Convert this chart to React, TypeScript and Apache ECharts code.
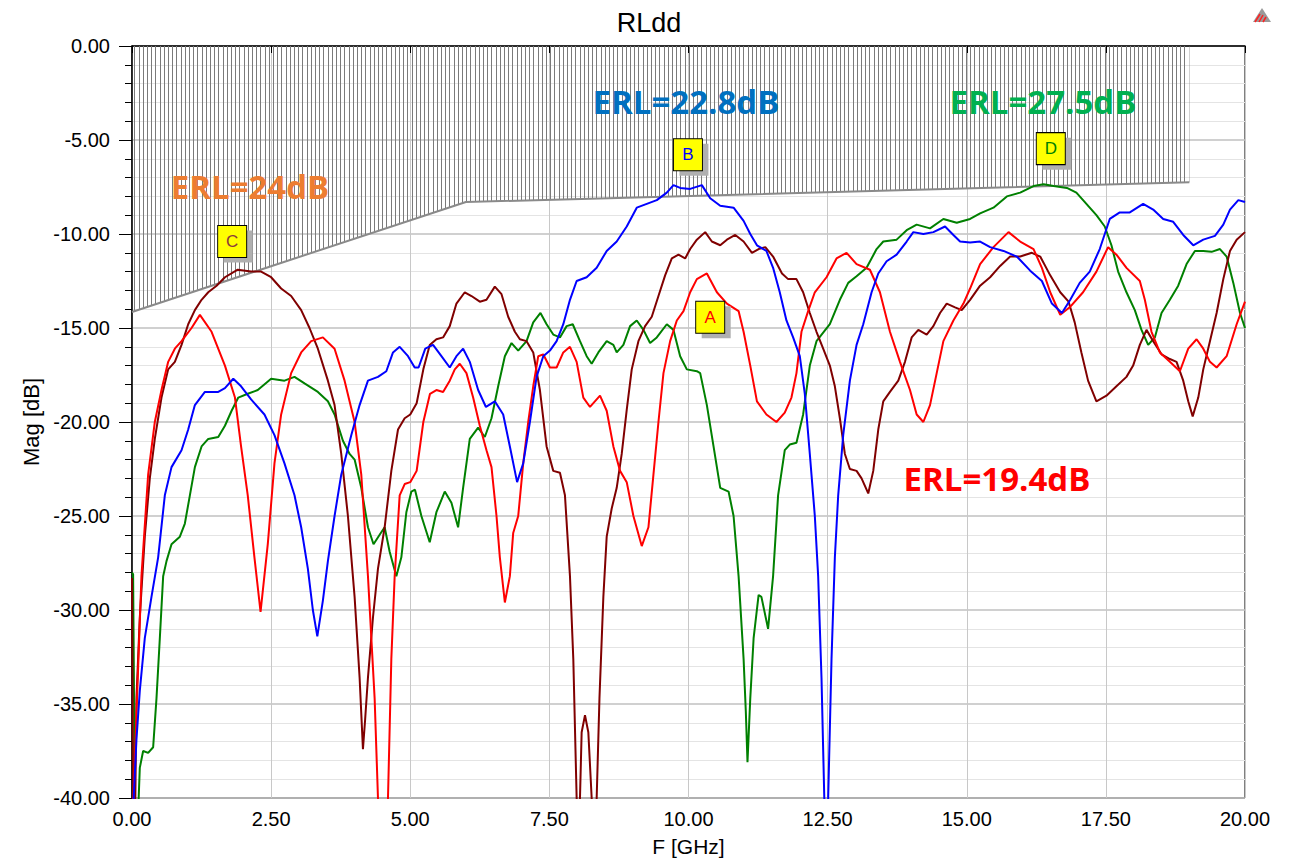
import React, { useEffect, useRef } from "react";
import * as echarts from "echarts";

// ---- data ----
const xTickLabels = ["0.00", "2.50", "5.00", "7.50", "10.00", "12.50", "15.00", "17.50", "20.00"];

const maskPoints: number[][] = [[0, -14.15], [6, -8.3], [19, -7.25]];

const redData: number[][] = [
  [0.0, -42], [0.05, -38], [0.17, -28.2], [0.29, -22.8], [0.41, -20.0], [0.53, -18.3], [0.65, -16.8], [0.77, -16.1],
  [0.89, -15.7], [1.07, -15.0], [1.22, -14.3], [1.43, -15.2], [1.67, -17.0], [1.85, -18.7], [1.96, -21.3], [2.08, -23.9],
  [2.2, -27.2], [2.31, -30.1], [2.44, -26.5], [2.56, -22.2], [2.68, -19.6], [2.86, -17.4], [3.04, -16.3], [3.22, -15.7],
  [3.43, -15.5], [3.64, -16.1], [3.82, -17.8], [4.0, -20.0], [4.12, -22.8], [4.24, -28.2], [4.36, -34.7], [4.42, -40],
  [4.5, -44], [4.56, -44], [4.6, -40], [4.66, -32.6], [4.72, -28.2], [4.81, -23.9], [4.9, -23.3], [5.0, -23.2],
  [5.115, -22.6], [5.235, -20.0], [5.355, -18.5], [5.47, -18.3], [5.59, -18.4], [5.71, -17.8], [5.8, -17.2], [5.89, -16.9],
  [6.01, -17.4], [6.13, -18.7], [6.25, -20.2], [6.37, -21.5], [6.46, -22.4], [6.55, -25.0], [6.61, -27.2], [6.7, -29.6],
  [6.79, -28.2], [6.85, -25.9], [6.94, -25.0], [7.03, -22.2], [7.12, -20.0], [7.21, -18.1], [7.3, -16.5], [7.39, -16.4],
  [7.51, -17.1], [7.63, -17.1], [7.75, -16.3], [7.87, -16.0], [7.99, -16.8], [8.11, -18.7], [8.23, -19.2], [8.41, -18.6],
  [8.53, -19.4], [8.65, -21.3], [8.77, -22.6], [8.89, -23.2], [9.01, -25.0], [9.16, -26.6], [9.28, -25.6], [9.37, -22.8],
  [9.46, -20.0], [9.55, -17.4], [9.67, -15.7], [9.79, -14.6], [9.91, -14.1], [10.03, -13.1], [10.15, -12.4], [10.33, -12.1],
  [10.51, -13.1], [10.69, -13.7], [10.9, -14.1], [10.99, -15.2], [11.11, -17.0], [11.23, -18.9], [11.4, -19.6], [11.58, -20.0],
  [11.73, -19.5], [11.85, -18.7], [11.94, -17.4], [12.03, -15.2], [12.15, -14.1], [12.27, -13.1], [12.48, -12.3], [12.66, -11.3],
  [12.84, -11.0], [13.02, -11.6], [13.26, -11.9], [13.44, -13.1], [13.62, -15.2], [13.8, -16.8], [13.98, -18.3], [14.1, -19.6],
  [14.22, -20.0], [14.34, -19.1], [14.46, -17.4], [14.58, -15.7], [14.76, -14.6], [14.94, -13.7], [15.06, -12.9], [15.24, -11.6],
  [15.48, -10.7], [15.75, -9.9], [15.96, -10.4], [16.2, -10.8], [16.35, -11.8], [16.5, -13.1], [16.68, -14.3], [16.85, -13.9],
  [17.09, -13.1], [17.33, -12.0], [17.54, -10.7], [17.69, -11.1], [17.87, -11.8], [18.11, -12.5], [18.2, -13.5], [18.32, -15.2],
  [18.47, -16.3], [18.65, -16.8], [18.83, -17.3], [18.98, -16.1], [19.13, -15.6], [19.25, -16.1], [19.37, -16.8], [19.49, -17.1],
  [19.67, -16.5], [19.85, -14.8], [20.0, -13.6],
];

const blueData: number[][] = [
  [0.0, -42], [0.03, -40], [0.08, -36.9], [0.14, -34.3], [0.23, -31.5], [0.35, -29.3], [0.47, -27.2], [0.59, -23.9],
  [0.71, -22.4], [0.89, -21.5], [1.01, -20.4], [1.13, -19.1], [1.31, -18.4], [1.55, -18.4], [1.67, -18.2], [1.82, -17.7],
  [1.96, -18.1], [2.14, -18.8], [2.38, -19.6], [2.56, -20.7], [2.74, -22.2], [2.92, -23.9], [3.04, -25.6], [3.16, -27.8],
  [3.25, -30.0], [3.33, -31.4], [3.43, -29.5], [3.52, -27.4], [3.64, -25.0], [3.76, -22.8], [3.94, -20.7], [4.09, -19.1],
  [4.24, -17.8], [4.42, -17.6], [4.57, -17.3], [4.69, -16.3], [4.81, -16.0], [4.96, -16.5], [5.08, -17.1], [5.15, -17.1],
  [5.27, -16.1], [5.41, -15.9], [5.56, -16.5], [5.71, -17.1], [5.83, -16.5], [5.95, -16.1], [6.07, -16.8], [6.22, -18.3],
  [6.36, -19.2], [6.52, -18.9], [6.67, -19.6], [6.79, -21.3], [6.92, -23.2], [7.03, -22.2], [7.15, -20.0], [7.27, -17.6],
  [7.39, -16.5], [7.51, -16.2], [7.63, -15.7], [7.75, -14.8], [7.87, -13.5], [7.99, -12.5], [8.17, -12.3], [8.35, -11.8],
  [8.53, -10.9], [8.71, -10.4], [8.89, -9.6], [9.07, -8.6], [9.25, -8.4], [9.43, -8.2], [9.61, -7.8], [9.73, -7.4],
  [9.85, -7.55], [10.03, -7.6], [10.24, -7.4], [10.39, -8.1], [10.57, -8.5], [10.81, -8.6], [10.99, -9.3], [11.11, -10.0],
  [11.23, -10.6], [11.4, -10.9], [11.52, -11.8], [11.64, -13.1], [11.76, -14.6], [11.88, -15.5], [12.0, -16.5], [12.09, -18.5],
  [12.18, -21.7], [12.27, -25.0], [12.33, -28.2], [12.39, -33.6], [12.44, -40], [12.47, -44], [12.51, -40], [12.57, -32.6],
  [12.63, -27.2], [12.69, -23.9], [12.78, -20.7], [12.9, -17.8], [13.02, -15.9], [13.14, -14.8], [13.29, -13.1], [13.41, -12.1],
  [13.56, -11.45], [13.74, -11.1], [13.92, -10.4], [14.04, -9.9], [14.22, -10.0], [14.4, -9.9], [14.61, -9.6], [14.76, -10.05],
  [14.88, -10.4], [15.06, -10.45], [15.24, -10.4], [15.42, -10.7], [15.66, -10.9], [15.9, -11.2], [16.14, -11.95], [16.35, -12.5],
  [16.53, -13.7], [16.71, -14.2], [16.86, -13.5], [17.03, -12.6], [17.21, -12.0], [17.39, -10.8], [17.57, -9.2], [17.75, -8.85],
  [17.93, -8.85], [18.17, -8.4], [18.35, -8.7], [18.53, -9.2], [18.71, -9.35], [18.89, -10.05], [19.07, -10.6], [19.25, -10.3],
  [19.46, -10.1], [19.61, -9.5], [19.73, -8.7], [19.88, -8.2], [20.0, -8.3],
];

const greenData: number[][] = [
  [0.0, -28.0], [0.02, -28.1], [0.05, -40], [0.1, -42], [0.12, -40], [0.14, -38.4], [0.2, -37.5], [0.29, -37.6],
  [0.38, -37.3], [0.44, -34.7], [0.5, -31.5], [0.56, -28.2], [0.62, -27.4], [0.71, -26.5], [0.86, -26.1], [0.95, -25.4],
  [1.04, -23.9], [1.13, -22.4], [1.25, -21.3], [1.37, -20.9], [1.55, -20.8], [1.67, -20.2], [1.79, -19.4], [1.91, -18.7],
  [2.08, -18.5], [2.26, -18.3], [2.5, -17.7], [2.74, -17.8], [2.92, -17.6], [3.1, -17.95], [3.34, -18.4], [3.52, -18.9],
  [3.64, -19.6], [3.79, -21.0], [3.91, -21.7], [4.0, -22.0], [4.12, -23.5], [4.24, -25.6], [4.34, -26.5], [4.45, -26.0],
  [4.54, -25.6], [4.63, -26.9], [4.75, -28.2], [4.84, -27.2], [4.93, -24.8], [5.02, -23.7], [5.085, -23.6], [5.2, -25.0],
  [5.35, -26.4], [5.47, -24.8], [5.62, -23.7], [5.74, -24.3], [5.86, -25.6], [5.95, -23.5], [6.07, -20.9], [6.22, -20.3],
  [6.34, -20.8], [6.46, -19.8], [6.58, -18.1], [6.7, -16.5], [6.82, -15.8], [6.94, -16.2], [7.09, -15.7], [7.21, -14.7],
  [7.34, -14.2], [7.45, -14.8], [7.57, -15.35], [7.69, -15.5], [7.81, -14.9], [7.92, -14.8], [8.05, -15.7], [8.17, -16.5],
  [8.26, -16.9], [8.38, -16.3], [8.53, -15.7], [8.65, -15.9], [8.71, -16.3], [8.83, -15.9], [8.95, -14.9], [9.07, -14.6],
  [9.19, -15.1], [9.31, -15.8], [9.43, -15.5], [9.61, -14.8], [9.73, -15.1], [9.85, -16.5], [9.97, -17.2], [10.15, -17.3],
  [10.21, -17.4], [10.33, -19.1], [10.45, -21.3], [10.57, -23.5], [10.72, -23.7], [10.81, -25.0], [10.9, -28.2], [10.99, -32.6],
  [11.03, -35.4], [11.06, -38.1], [11.11, -34.7], [11.17, -31.5], [11.26, -29.2], [11.31, -29.3], [11.43, -31.0], [11.52, -28.2],
  [11.61, -23.9], [11.73, -21.5], [11.82, -21.2], [11.94, -21.1], [12.06, -19.6], [12.18, -17.0], [12.3, -15.7], [12.54, -14.8],
  [12.72, -13.5], [12.87, -12.6], [13.02, -12.25], [13.2, -11.8], [13.38, -10.8], [13.5, -10.4], [13.74, -10.3], [13.92, -9.8],
  [14.1, -9.5], [14.34, -9.7], [14.58, -9.2], [14.82, -9.4], [15.06, -9.2], [15.24, -8.9], [15.48, -8.6], [15.72, -8.0],
  [15.96, -7.8], [16.2, -7.45], [16.38, -7.35], [16.56, -7.45], [16.8, -7.55], [16.97, -7.8], [17.15, -8.4], [17.33, -9.0],
  [17.48, -9.6], [17.6, -10.6], [17.72, -12.0], [17.87, -13.1], [18.02, -14.05], [18.14, -15.1], [18.26, -15.9], [18.38, -15.5],
  [18.5, -14.2], [18.65, -13.5], [18.8, -12.75], [18.95, -11.6], [19.1, -10.9], [19.25, -10.9], [19.4, -10.95], [19.55, -10.8],
  [19.67, -11.2], [19.79, -12.6], [19.91, -14.2], [20.0, -15.0],
];

const maroonData: number[][] = [
  [0.0, -28.3], [0.02, -40], [0.04, -42], [0.06, -40], [0.08, -34.7], [0.14, -30.4], [0.23, -26.1], [0.32, -23.0],
  [0.41, -20.9], [0.53, -18.7], [0.65, -17.2], [0.77, -16.8], [0.89, -15.9], [1.01, -14.8], [1.13, -14.05], [1.25, -13.5],
  [1.37, -13.1], [1.52, -12.75], [1.67, -12.3], [1.9, -11.9], [2.14, -12.0], [2.32, -12.0], [2.5, -12.3], [2.68, -12.9],
  [2.86, -13.3], [3.04, -14.05], [3.19, -15.0], [3.34, -16.1], [3.52, -17.8], [3.64, -19.1], [3.76, -21.7], [3.88, -25.0],
  [4.0, -29.3], [4.09, -33.6], [4.15, -37.4], [4.19, -35.8], [4.24, -33.6], [4.33, -30.4], [4.42, -27.8], [4.54, -25.6],
  [4.66, -22.6], [4.78, -20.4], [4.9, -19.8], [5.0, -19.6], [5.115, -19.0], [5.235, -17.2], [5.35, -15.9], [5.47, -15.6],
  [5.59, -15.5], [5.71, -14.9], [5.83, -13.7], [5.98, -13.1], [6.1, -13.3], [6.25, -13.6], [6.37, -13.5], [6.52, -12.8],
  [6.64, -13.2], [6.76, -14.4], [6.88, -15.2], [6.97, -15.6], [7.09, -15.7], [7.21, -16.3], [7.33, -18.3], [7.45, -21.3],
  [7.57, -22.6], [7.69, -22.7], [7.78, -23.9], [7.87, -28.2], [7.93, -32.6], [7.99, -40], [8.02, -44], [8.05, -40],
  [8.08, -36.5], [8.14, -35.6], [8.2, -36.5], [8.26, -40], [8.3, -44], [8.35, -40], [8.4, -34.7], [8.47, -29.3],
  [8.53, -26.1], [8.62, -24.6], [8.71, -23.5], [8.8, -21.7], [8.89, -19.35], [8.98, -17.2], [9.1, -15.7], [9.22, -14.9],
  [9.34, -14.4], [9.46, -13.3], [9.58, -12.2], [9.7, -11.3], [9.82, -11.1], [9.94, -11.3], [10.03, -10.8], [10.15, -10.3],
  [10.3, -9.9], [10.42, -10.4], [10.57, -10.6], [10.69, -10.3], [10.84, -10.05], [10.99, -10.4], [11.14, -11.0], [11.26, -10.8],
  [11.38, -10.7], [11.52, -11.2], [11.68, -12.1], [11.79, -12.4], [11.94, -12.4], [12.06, -13.1], [12.18, -14.2], [12.3, -15.2],
  [12.42, -16.1], [12.54, -17.0], [12.63, -18.1], [12.72, -19.8], [12.81, -21.7], [12.9, -22.5], [13.02, -22.6], [13.11, -23.0],
  [13.23, -23.8], [13.32, -22.6], [13.41, -20.4], [13.5, -18.9], [13.62, -18.4], [13.77, -17.8], [13.89, -16.8], [14.01, -15.5],
  [14.13, -15.1], [14.28, -15.35], [14.4, -14.9], [14.52, -14.2], [14.64, -13.7], [14.79, -13.9], [14.91, -14.05], [15.06, -13.5],
  [15.24, -12.75], [15.42, -12.3], [15.6, -11.7], [15.78, -11.2], [15.96, -11.2], [16.17, -11.0], [16.32, -11.2], [16.5, -12.2],
  [16.68, -13.1], [16.83, -13.6], [16.94, -14.7], [17.06, -16.3], [17.18, -17.8], [17.33, -18.9], [17.51, -18.6], [17.69, -18.1],
  [17.87, -17.6], [17.99, -17.0], [18.11, -15.9], [18.23, -15.1], [18.35, -15.7], [18.5, -16.4], [18.65, -16.65], [18.77, -16.8],
  [18.89, -17.8], [18.98, -18.9], [19.06, -19.7], [19.16, -18.7], [19.25, -17.2], [19.37, -15.7], [19.49, -14.2], [19.61, -12.4],
  [19.73, -10.9], [19.85, -10.3], [20.0, -9.9],
];

// marker boxes (letter, position in data units)
const markerNames = ["A", "B", "C", "D"];
const markerCoords: number[][] = [[10.39, -14.43], [9.99, -5.78], [1.8, -10.4], [16.51, -5.46]];

// ERL annotations
const erlTexts = ["ERL=24dB", "ERL=22.8dB", "ERL=27.5dB", "ERL=19.4dB"];

const FONT = "'Liberation Sans', Arial, sans-serif";

function markerFor(idx: number, letterColor: string) {
  const c = markerCoords[idx];
  return {
    silent: true,
    symbol: "rect",
    symbolSize: [29, 32],
    data: [
      {
        coord: c,
        symbolOffset: [6, 5],
        itemStyle: { color: "#b0b0b0", borderWidth: 0 },
        label: { show: false },
      },
      {
        coord: c,
        itemStyle: { color: "#ffff00", borderColor: "#000000", borderWidth: 1 },
        label: {
          show: true,
          formatter: markerNames[idx],
          color: letterColor,
          fontSize: 17,
          fontFamily: FONT,
        },
      },
    ],
  };
}

export default function App() {
  const ref = useRef<HTMLDivElement>(null);
  useEffect(() => {
    if (!ref.current) return;
    const chart = echarts.init(ref.current, null, { renderer: "svg" });

    const canvas = document.createElement("canvas");
    canvas.width = 21;
    canvas.height = 8;
    const ctx = canvas.getContext("2d");
    if (ctx) {
      ctx.fillStyle = "#7a7a7a";
      [0, 4, 8, 13, 17].forEach((x) => ctx.fillRect(x, 0, 1, 8));
    }

    const curve = (name: string, data: number[][], color: string, mp?: any) => ({
      name,
      type: "line",
      data,
      showSymbol: false,
      symbol: "none",
      z: 3,
      lineStyle: { color, width: 2 },
      itemStyle: { color },
      markPoint: mp,
    });

    const option: any = {
      animation: false,
      backgroundColor: "#ffffff",
      title: {
        text: "RLdd",
        left: 644,
        top: 4,
        textAlign: "center",
        textStyle: { fontSize: 27, fontWeight: "normal", color: "#000", fontFamily: FONT },
      },
      grid: {
        left: 132,
        top: 46,
        width: 1113,
        height: 754,
        show: true,
        borderColor: "#000",
        borderWidth: 1,
        backgroundColor: "#ffffff",
      },
      xAxis: {
        type: "value",
        min: 0,
        max: 20,
        interval: 2.5,
        name: "F [GHz]",
        nameLocation: "middle",
        nameGap: 38,
        nameTextStyle: { fontSize: 21, color: "#000", fontFamily: FONT },
        axisLine: { show: true, lineStyle: { color: "#000", width: 1.5 } },
        axisTick: { show: true, length: 7, lineStyle: { color: "#000" } },
        axisLabel: {
          margin: 11,
          fontSize: 20,
          color: "#000",
          fontFamily: FONT,
          formatter: (v: number) => xTickLabels[Math.round(v / 2.5)] ?? v.toFixed(2),
        },
        splitLine: { show: true, lineStyle: { color: "#c8c8c8", width: 1 } },
      },
      yAxis: {
        type: "value",
        min: -40,
        max: 0,
        interval: 5,
        name: "Mag [dB]",
        nameLocation: "middle",
        nameGap: 90,
        nameTextStyle: { fontSize: 22, color: "#000", fontFamily: FONT },
        axisLine: { show: true, lineStyle: { color: "#000", width: 1.5 } },
        axisTick: { show: true, length: 13, lineStyle: { color: "#000" } },
        minorTick: { show: true, splitNumber: 5, length: 7, lineStyle: { color: "#000" } },
        axisLabel: {
          margin: 22,
          fontSize: 20,
          color: "#000",
          fontFamily: FONT,
          formatter: (v: number) => v.toFixed(2),
        },
        splitLine: { show: true, lineStyle: { color: "#c0c0c0", width: 1.5 } },
        minorSplitLine: { show: true, lineStyle: { color: "#e4e4e4", width: 1 } },
      },
      series: [
        {
          name: "mask",
          type: "line",
          data: maskPoints,
          showSymbol: false,
          symbol: "none",
          z: 2,
          lineStyle: { color: "#8a8a8a", width: 2 },
          areaStyle: { origin: "end", opacity: 1, color: { image: canvas, repeat: "repeat" } },
        },
        curve("green", greenData, "#008000", markerFor(3, "#008000")),
        curve("maroon", maroonData, "#800000", markerFor(2, "#8b3a3a")),
        curve("red", redData, "#ff0000", markerFor(0, "#ff0000")),
        curve("blue", blueData, "#0000ff", markerFor(1, "#0000ff")),
      ],
      graphic: [
        {
          type: "text",
          x: 250,
          y: 186,
          z: 10,
          style: { text: erlTexts[0], fill: "#ed7d31", font: "bold 33px 'Open Sans', sans-serif", align: "center", verticalAlign: "middle" },
        },
        {
          type: "text",
          x: 686,
          y: 101,
          z: 10,
          style: { text: erlTexts[1], fill: "#0070c0", font: "bold 33px 'Open Sans', sans-serif", align: "center", verticalAlign: "middle" },
        },
        {
          type: "text",
          x: 1043,
          y: 101,
          z: 10,
          style: { text: erlTexts[2], fill: "#00b050", font: "bold 33px 'Open Sans', sans-serif", align: "center", verticalAlign: "middle" },
        },
        {
          type: "text",
          x: 997,
          y: 478,
          z: 10,
          style: { text: erlTexts[3], fill: "#ff0000", font: "bold 33px 'Open Sans', sans-serif", align: "center", verticalAlign: "middle" },
        },
        {
          type: "polygon",
          z: 10,
          shape: { points: [[1253, 22], [1262, 8], [1271, 22]] },
          style: { fill: "#9a9a9a" },
        },
        { type: "line", z: 11, shape: { x1: 1255, y1: 22, x2: 1260, y2: 14 }, style: { stroke: "#ff2020", lineWidth: 1.5 } },
        { type: "line", z: 11, shape: { x1: 1259, y1: 22, x2: 1263, y2: 15 }, style: { stroke: "#ff2020", lineWidth: 1.5 } },
        { type: "line", z: 11, shape: { x1: 1263, y1: 22, x2: 1266, y2: 17 }, style: { stroke: "#ff2020", lineWidth: 1.5 } },
      ],
    };

    chart.setOption(option);
    return () => chart.dispose();
  }, []);

  return <div ref={ref} style={{ position: "fixed", left: 0, top: 0, width: 1295, height: 862 }} />;
}
